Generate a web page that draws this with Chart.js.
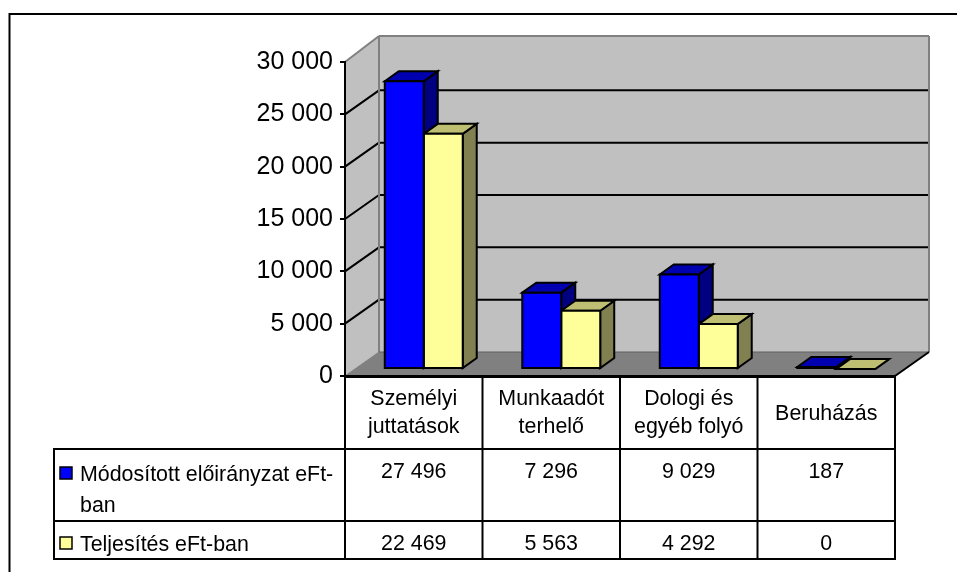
<!DOCTYPE html>
<html>
<head>
<meta charset="utf-8">
<style>
  html, body { margin: 0; padding: 0; background: #fff; }
  canvas { display: block; }
</style>
<script src="https://cdn.jsdelivr.net/npm/chart.js@4"></script>
</head>
<body>
<canvas id="myChart" width="957" height="572"></canvas>
<script>
const categories = [['Személyi', 'juttatások'], ['Munkaadót', 'terhelő'], ['Dologi és', 'egyéb folyó'], ['Beruházás']];
const modositott = [27496, 7296, 9029, 187];
const teljesites = [22469, 5563, 4292, 0];
const seriesNames = [['Módosított előirányzat eFt-', 'ban'], ['Teljesítés eFt-ban']];

const fontName = '"Liberation Sans", Arial, sans-serif';
const wallDepth = { x: 34, y: -24 };
const barShift = { x: 10, y: -7 };
const barDepth = { x: 14, y: -10 };
const faces = [
  { front: '#0000FF', top: '#0000B0', side: '#000080' },
  { front: '#FFFF99', top: '#BFBF73', side: '#808050' }
];

function spaced(v) {
  return String(v).replace(/\B(?=(\d{3})+$)/g, ' ');
}

function poly(ctx, pts, fill, stroke, lw) {
  ctx.beginPath();
  pts.forEach((p, i) => i ? ctx.lineTo(p[0], p[1]) : ctx.moveTo(p[0], p[1]));
  ctx.closePath();
  if (fill) { ctx.fillStyle = fill; ctx.fill(); }
  if (stroke) { ctx.strokeStyle = stroke; ctx.lineWidth = lw; ctx.stroke(); }
}

function line(ctx, x1, y1, x2, y2, color, lw) {
  ctx.beginPath();
  ctx.moveTo(x1, y1);
  ctx.lineTo(x2, y2);
  ctx.strokeStyle = color;
  ctx.lineWidth = lw;
  ctx.stroke();
}

// top and side faces of every bar of one dataset
function drawFaces(ctx, meta, colors) {
  const ax = barDepth.x, ay = barDepth.y;
  meta.data.forEach(bar => {
    const l = bar.x - bar.width / 2, r = bar.x + bar.width / 2;
    const b = bar.base, t = bar.y;
    poly(ctx, [[r, t], [r + ax, t + ay], [r + ax, b + ay], [r, b]], colors.side, '#000', 2);
    poly(ctx, [[l, t], [l + ax, t + ay], [r + ax, t + ay], [r, t]], colors.top, '#000', 2);
  });
}

// walls, floor and gridlines of the 3D box
const box3d = {
  id: 'box3d',
  beforeDraw(chart) {
    const ctx = chart.ctx;
    const { left, right, top, bottom } = chart.chartArea;
    const dx = wallDepth.x, dy = wallDepth.y;
    const wallTop = top + dy - 2;
    ctx.save();
    ctx.fillStyle = '#fff';
    ctx.fillRect(0, 0, chart.width, chart.height);
    // outer frame, only top and left fall inside the picture
    line(ctx, 9.5, 14, 957, 14, '#000', 2);
    line(ctx, 9.5, 13, 9.5, 572, '#000', 2);
    // side wall
    poly(ctx, [[left, top], [left + dx, wallTop], [left + dx, bottom + dy], [left, bottom]], '#C0C0C0');
    // back wall
    poly(ctx, [[left + dx, wallTop], [right + dx, wallTop], [right + dx, bottom + dy], [left + dx, bottom + dy]], '#C0C0C0');
    // floor
    poly(ctx, [[left, bottom], [left + dx, bottom + dy], [right + dx, bottom + dy], [right, bottom]], '#808080');
    // gridlines on both walls
    const yScale = chart.scales.y;
    yScale.ticks.forEach(t => {
      if (t.value === 0 || t.value === yScale.max) return;
      const y = yScale.getPixelForValue(t.value);
      line(ctx, left, y, left + dx, y + dy, '#000', 2);
      line(ctx, left + dx, y + dy, right + dx, y + dy, '#000', 2);
    });
    // wall edges
    line(ctx, left, top, left + dx, wallTop, '#808080', 2);
    line(ctx, left + dx, wallTop, right + dx, wallTop, '#808080', 2);
    line(ctx, left + dx, wallTop, left + dx, bottom + dy, '#808080', 2);
    line(ctx, right + dx, wallTop, right + dx, bottom + dy, '#808080', 2);
    line(ctx, left + dx, bottom + dy, right + dx, bottom + dy, '#606060', 1);
    line(ctx, left, bottom, left + dx, bottom + dy, '#808080', 1);
    line(ctx, right, bottom, right + dx, bottom + dy, '#000', 2);
    ctx.restore();
  },
  beforeDatasetDraw(chart, args) {
    const ctx = chart.ctx;
    ctx.save();
    ctx.translate(barShift.x, barShift.y);
    // dataset 1 is painted first, so blue faces go down before it
    if (args.index === 1) {
      drawFaces(ctx, chart.getDatasetMeta(0), faces[0]);
      drawFaces(ctx, args.meta, faces[1]);
    }
  },
  afterDatasetDraw(chart, args) {
    const ctx = chart.ctx;
    // outline sits centred on the bar edge
    args.meta.data.forEach(bar => {
      const l = bar.x - bar.width / 2, r = bar.x + bar.width / 2;
      poly(ctx, [[l, bar.y], [r, bar.y], [r, bar.base], [l, bar.base]], null, '#000', 2);
    });
    ctx.restore();
  },
  // the data table under the plot
  afterDraw(chart) {
    const ctx = chart.ctx;
    const xScale = chart.scales.x;
    const { left, right, bottom } = chart.chartArea;
    const halfCat = (right - left) / categories.length / 2;
    const rows = [449, 521, 559];
    const tableLeft = 54;
    ctx.save();
    line(ctx, left, bottom, left, rows[2] + 1, '#000', 2);
    line(ctx, right, bottom, right, rows[2] + 1, '#000', 2);
    line(ctx, tableLeft, rows[0] - 1, tableLeft, rows[2] + 1, '#000', 2);
    rows.forEach(y => line(ctx, tableLeft, y, right, y, '#000', 2));
    categories.forEach((c, i) => {
      const cx = xScale.getPixelForTick(i);
      if (i > 0) line(ctx, cx - halfCat, bottom, cx - halfCat, rows[2] + 1, '#000', 2);
    });
    ctx.font = '21.4px ' + fontName;
    ctx.fillStyle = '#000';
    ctx.textAlign = 'center';
    ctx.textBaseline = 'alphabetic';
    categories.forEach((c, i) => {
      const cx = xScale.getPixelForTick(i);
      if (c.length === 2) {
        ctx.fillText(c[0], cx, 405);
        ctx.fillText(c[1], cx, 433);
      } else {
        ctx.fillText(c[0], cx, 420);
      }
      ctx.fillText(spaced(modositott[i]), cx, 478);
      ctx.fillText(spaced(teljesites[i]), cx, 550);
    });
    ctx.textAlign = 'left';
    ctx.fillText(seriesNames[0][0], 80, 481);
    ctx.fillText(seriesNames[0][1], 80, 512);
    ctx.fillText(seriesNames[1][0], 80, 551);
    ctx.strokeStyle = '#000';
    ctx.lineWidth = 1.5;
    ctx.fillStyle = faces[0].front;
    ctx.fillRect(60, 467, 12, 12);
    ctx.strokeRect(60, 467, 12, 12);
    ctx.fillStyle = faces[1].front;
    ctx.fillRect(60, 537, 12, 12);
    ctx.strokeRect(60, 537, 12, 12);
    ctx.restore();
  }
};

const barStyle = {
  borderWidth: 0,
  categoryPercentage: 0.567,
  barPercentage: 1,
  clip: false
};

new Chart(document.getElementById('myChart'), {
  type: 'bar',
  data: {
    labels: categories,
    datasets: [
      { label: 'Módosított előirányzat eFt-ban', data: modositott, backgroundColor: faces[0].front, ...barStyle },
      { label: 'Teljesítés eFt-ban', data: teljesites, backgroundColor: faces[1].front, ...barStyle }
    ]
  },
  options: {
    responsive: false,
    animation: false,
    layout: { padding: { left: 0, top: 62, right: 62, bottom: 196 } },
    plugins: { legend: { display: false }, tooltip: { enabled: false } },
    scales: {
      x: {
        grid: { display: false },
        border: { color: '#000', width: 3 },
        ticks: { display: false },
        afterFit(s) { s.height = 0; }
      },
      y: {
        min: 0,
        max: 30000,
        afterFit(s) { s.width = 345; },
        grid: { drawOnChartArea: false, color: '#000', lineWidth: 2, tickLength: 5 },
        border: { color: '#000', width: 2 },
        ticks: {
          stepSize: 5000,
          color: '#000',
          padding: 7,
          font: { family: fontName, size: 25 },
          callback: v => spaced(v)
        }
      }
    }
  },
  plugins: [box3d]
});
</script>
</body>
</html>
